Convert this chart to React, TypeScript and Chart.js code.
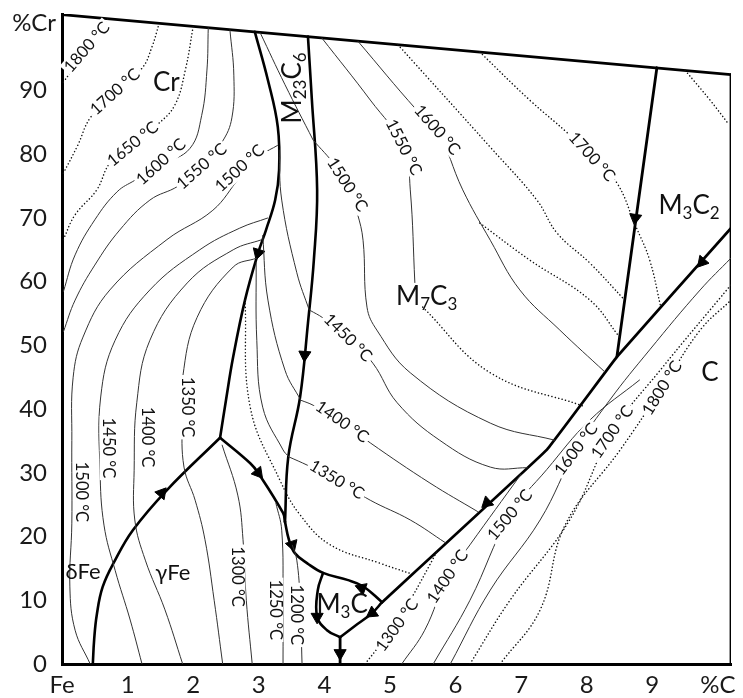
import React, { useEffect, useRef } from "react";
import { Chart, registerables } from "chart.js";
Chart.register(...registerables);

type P = [number, number];

// ---- axes ----
const X_TICKS = [0, 1, 2, 3, 4, 5, 6, 7, 8, 9, 10];
const X_TICK_LABELS = ["Fe", "1", "2", "3", "4", "5", "6", "7", "8", "9", "%C"];
const Y_TICKS = [0, 10, 20, 30, 40, 50, 60, 70, 80, 90];
const Y_TICK_LABELS = ["0", "10", "20", "30", "40", "50", "60", "70", "80", "90"];
const Y_AXIS_TITLE = "%Cr";
const Y_AXIS_TITLE_AT = 100.6;
const X_MAX = 10.2;
const Y_MAX = 102;

// ---- frame edges ----
const EDGE_TOP: P[] = [[0, 101.9], [10.2, 92.5]];
const EDGE_RIGHT: P[] = [[10.2, 92.5], [10.2, 0]];

// ---- phase boundaries (thick) ----
const BND_DELTA_GAMMA: P[] = [[0.47, 0], [0.49, 3.8], [0.53, 7.7], [0.62, 12.1], [0.81, 16.3], [1.08, 21.0], [1.6, 27.3], [2.41, 35.5]];
const BND_CR_M23: P[] = [[2.41, 35.5], [2.5, 41.4], [2.61, 48.2], [2.79, 57.1], [2.99, 64.5], [3.11, 68.1], [3.25, 72.8], [3.31, 77.5], [3.29, 84.3], [3.14, 91.6], [2.94, 99.2]];
const BND_M23_M7: P[] = [[3.75, 98.45], [3.81, 88.5], [3.89, 74.4], [3.84, 63.4], [3.75, 53.5], [3.63, 41.9], [3.45, 32.5], [3.4, 22.3]];
const BND_J1_J2: P[] = [[2.41, 35.5], [2.87, 31.5], [2.99, 30.0], [3.37, 23.7], [3.4, 22.3]];
const BND_J2_M3C: P[] = [[3.4, 22.3], [3.46, 19.5], [3.55, 17.4], [3.74, 15.8], [3.98, 14.3], [4.35, 13.2], [4.59, 12.2], [4.88, 9.7]];
const BND_M3C_LEFT: P[] = [[3.98, 14.3], [3.9, 11.6], [3.89, 7.4], [4.04, 5.3], [4.24, 4.2]];
const BND_M3C_RIGHT: P[] = [[4.88, 9.7], [4.73, 8.0], [4.47, 6.0], [4.24, 4.2]];
const BND_M3C_DOWN: P[] = [[4.24, 4.2], [4.24, 0]];
const BND_GRAPHITE: P[] = [[10.2, 68.4], [8.46, 48.2], [7.39, 33.6], [4.88, 9.7]];
const BND_M3C2_M7: P[] = [[9.07, 93.56], [8.46, 48.2]];

// ---- isotherms: Cr / delta / gamma field ----
const ISO_1800_CR: P[] = [[0.02, 91.3], [0.27, 94.8], [0.5, 98.0], [0.7, 101.25]];
const ISO_1700_CR: P[] = [[0.02, 77.0], [0.24, 81.4], [0.43, 85.7], [0.81, 89.8], [1.22, 93.5], [1.37, 96.8], [1.48, 100.5]];
const ISO_1650_CR: P[] = [[0.02, 66.6], [0.2, 70.5], [0.53, 74.4], [0.73, 78.6], [1.08, 81.6], [1.45, 84.6], [1.72, 87.7], [1.88, 93.2], [2.0, 100.05]];
const ISO_1600_CR: P[] = [[2.23, 99.85], [2.21, 93.2], [2.13, 86.1], [1.95, 80.9], [1.51, 78.3], [1.11, 75.9], [0.84, 74.1], [0.5, 69.7], [0.2, 64.2], [0.02, 58.4]];
const ISO_1550_CR: P[] = [[2.56, 99.55], [2.62, 92.4], [2.59, 85.7], [2.44, 81.9], [2.13, 78.1], [1.77, 75.0], [1.34, 72.8], [0.88, 68.1], [0.5, 62.6], [0.2, 57.1], [0.02, 52.1]];
const ISO_1500_CR: P[] = [[0.43, 0], [0.2, 5.3], [0.12, 12.1], [0.15, 22.1], [0.15, 35.1], [0.17, 45.0], [0.32, 51.3], [0.73, 58.7], [1.6, 66.6], [2.3, 71.2], [2.71, 76.3], [3.05, 79.9], [3.29, 81.4]];
const ISO_1450_CR: P[] = [[1.22, 0], [1.04, 6.9], [0.81, 14.7], [0.64, 21.8], [0.58, 30.4], [0.59, 41.9], [0.81, 50.8], [1.34, 58.7], [2.1, 65.0], [2.71, 68.4], [3.14, 70.0]];
const ISO_1400_CR: P[] = [[1.84, 0], [1.57, 8.5], [1.27, 16.3], [1.11, 22.6], [1.1, 30.4], [1.14, 41.0], [1.34, 50.8], [1.91, 59.8], [2.61, 65.0], [3.05, 66.6]];
const ISO_1350_CR: P[] = [[2.45, 0], [2.32, 10.0], [2.18, 19.5], [2.03, 25.7], [1.86, 30.9], [1.83, 38.3], [1.84, 45.0], [2.06, 54.4], [2.61, 62.3], [2.97, 63.7]];
const ISO_1300_G: P[] = [[2.44, 34.4], [2.68, 26.5], [2.76, 19.5], [2.81, 10.0], [2.9, 0]];
const ISO_1250_G: P[] = [[3.26, 25.3], [3.35, 21.0], [3.37, 10.0], [3.37, 0]];
const ISO_1200_G: P[] = [[3.51, 18.7], [3.58, 16.3], [3.63, 10.0], [3.66, 0]];

// ---- isotherms: M23C6 field ----
const ISO_M23_A: P[] = [[3.02, 99.1], [3.4, 90.9], [3.83, 82.2]];
const ISO_M23_B: P[] = [[3.31, 80.7], [3.35, 72.8], [3.58, 61.4], [3.77, 55.5]];
const ISO_M23_C: P[] = [[3.06, 67.3], [3.14, 57.1], [3.4, 46.1], [3.64, 41.4]];
const ISO_M23_D: P[] = [[2.96, 63.1], [2.97, 50.8], [3.06, 40.3], [3.37, 33.6], [3.46, 32.5]];

// ---- isotherms: M7C3 field ----
const ISO_1500_M7: P[] = [[3.83, 82.2], [4.16, 78.3], [4.35, 75.2], [4.5, 70.8], [4.59, 66.5], [4.65, 56.0], [4.8, 52.4], [5.31, 45.7], [6.53, 37.8], [7.52, 35.1]];
const ISO_1550_M7: P[] = [[3.96, 98.26], [4.7, 88.5], [5.21, 81.1], [5.31, 74.4], [5.38, 59.8]];
const ISO_1550_M7_DOT: P[] = [[5.5, 56.0], [6.53, 45.7], [7.94, 40.5]];
const ISO_1600_M7: P[] = [[4.51, 97.75], [5.41, 86.9], [5.72, 83.8], [6.11, 74.4], [6.53, 66.5], [6.98, 58.7], [7.59, 52.4], [8.28, 45.8]];
const ISO_1450_M7: P[] = [[3.78, 55.5], [3.98, 54.3], [4.36, 51.2], [4.74, 47.2], [5.11, 41.0], [5.76, 35.1], [6.53, 30.9], [7.1, 30.8]];
const ISO_1400_M7: P[] = [[3.64, 41.4], [3.83, 40.6], [4.27, 38.0], [4.7, 34.7], [5.61, 28.4], [6.34, 23.9]];
const ISO_1350_M7: P[] = [[3.46, 32.5], [3.74, 31.2], [4.19, 28.9], [4.7, 25.7], [5.31, 22.6], [5.85, 19.0]];
const ISO_1300_META: P[] = [[2.79, 57.1], [2.87, 40.3], [3.32, 28.9], [3.63, 23.4], [4.09, 18.7], [4.85, 15.8], [5.34, 14.1]];
const ISO_1650_M7: P[] = [[5.12, 97.2], [6.53, 81.1], [7.24, 72.8], [7.55, 67.6], [8.05, 62.9], [8.58, 57.1]];
const ISO_M7_LOW_DOT: P[] = [[6.37, 69.2], [7.13, 63.4], [8.05, 57.1], [8.5, 51.3]];
const ISO_1700_M7: P[] = [[6.37, 96.04], [7.13, 88.5], [7.71, 83.3], [8.08, 79.6], [8.46, 75.5], [8.74, 68.9]];
const ISO_1700_M32: P[] = [[8.74, 68.9], [8.96, 63.4], [9.13, 56.0]];
const ISO_1800_M32: P[] = [[9.5, 93.16], [9.88, 88.5], [10.15, 84.9]];

// ---- isotherms: graphite field ----
const ISO_1300_C: P[] = [[4.62, 0], [4.85, 3.0], [5.08, 6.1], [5.31, 10.0], [5.72, 17.7]];
const ISO_1400_C: P[] = [[5.18, 0], [5.53, 5.3], [5.88, 13.7], [6.22, 18.7], [7.0, 29.8]];
const ISO_1500_C: P[] = [[5.66, 0], [6.22, 10.0], [6.83, 23.4], [7.39, 30.5], [8.05, 38.3], [8.81, 44.6]];
const ISO_1600_C: P[] = [[5.92, 0], [6.53, 11.6], [7.29, 22.6], [7.84, 33.7], [8.35, 41.4], [8.96, 49.3], [9.73, 58.7], [10.2, 63.7]];
const ISO_1700_C: P[] = [[6.22, 0], [6.83, 10.0], [7.74, 22.6], [8.39, 36.4], [9.12, 46.1], [10.2, 59.5]];
const ISO_1800_C: P[] = [[6.68, 0], [7.29, 8.5], [7.67, 21.8], [8.51, 33.6], [9.15, 43.3], [9.73, 52.4], [10.2, 57.1]];

// ---- arrows on the boundary lines ----
const ARROW_AT: P[] = [[1.52, 26.8], [2.99, 64.5], [3.7, 48.5], [2.99, 30.0], [3.51, 18.7], [4.57, 11.9], [3.89, 7.4], [4.73, 8.0], [4.24, 1.7], [9.76, 63.1], [6.48, 25.3], [8.74, 70.0]];
const ARROW_DIR: number[] = [40, 197, 184, 141, 162, 290, 180, 115, 180, 221, 228, 188];

// ---- text ----
const LABEL_TEXT: string[] = [
  "1800 °C", "1700 °C", "Cr", "1650 °C", "1600 °C", "1550 °C", "1500 °C", "M_23C_6",
  "1500 °C", "1550 °C", "1600 °C", "1700 °C", "M_3C_2", "M_7C_3", "1450 °C", "1400 °C", "1350 °C",
  "1350 °C", "1400 °C", "1450 °C", "1500 °C", "δFe", "γFe", "1300 °C", "1250 °C", "1200 °C", "M_3C",
  "1300 °C", "1400 °C", "1500 °C", "1600 °C", "1700 °C", "1800 °C", "C",
];
const LABEL_AT: P[] = [
  [0.38, 96.8], [0.81, 89.8], [1.59, 91.3], [1.08, 81.6], [1.51, 78.8], [2.13, 78.1], [2.71, 77.8], [3.52, 90.4],
  [4.35, 75.2], [5.21, 81.1], [5.72, 83.8], [8.08, 79.6], [9.56, 71.9], [5.56, 57.6], [4.36, 51.2], [4.27, 38.0], [4.19, 28.9],
  [1.91, 40.3], [1.3, 35.6], [0.7, 33.9], [0.3, 27.0], [0.32, 14.4], [1.69, 14.3], [2.67, 13.7], [3.25, 8.5], [3.58, 7.7], [4.27, 9.3],
  [5.11, 6.1], [5.88, 13.7], [6.83, 23.4], [7.84, 33.7], [8.39, 36.4], [9.15, 43.3], [9.88, 45.7],
];
const LABEL_ROT: number[] = [
  -49, -42, 0, -39, -42, -41, -43, -90,
  57, 63, 49, 48, 0, 0, 45, 35, 31,
  90, 90, 90, 90, 0, 0, 90, 90, 90, 0,
  -54, -56, -50, -53, -55, -58, 0,
];

const FONT = "Lato, 'Open Sans', sans-serif";

const THICK_SMOOTH: P[][] = [BND_DELTA_GAMMA, BND_CR_M23, BND_M23_M7, BND_J1_J2, BND_J2_M3C, BND_M3C_LEFT, BND_M3C_RIGHT];
const THICK_STRAIGHT: P[][] = [EDGE_TOP, EDGE_RIGHT, BND_M3C_DOWN, BND_GRAPHITE, BND_M3C2_M7];
const THIN: P[][] = [
  ISO_1600_CR, ISO_1550_CR, ISO_1500_CR, ISO_1450_CR, ISO_1400_CR, ISO_1350_CR, ISO_1300_G, ISO_1250_G, ISO_1200_G,
  ISO_M23_A, ISO_M23_B, ISO_M23_C, ISO_M23_D,
  ISO_1500_M7, ISO_1550_M7, ISO_1600_M7, ISO_1450_M7, ISO_1400_M7, ISO_1350_M7,
  ISO_1400_C, ISO_1500_C, ISO_1600_C,
];
const DOTTED: P[][] = [
  ISO_1800_CR, ISO_1700_CR, ISO_1650_CR, ISO_1550_M7_DOT, ISO_1300_META, ISO_1650_M7, ISO_M7_LOW_DOT,
  ISO_1700_M7, ISO_1700_M32, ISO_1800_M32, ISO_1300_C, ISO_1700_C, ISO_1800_C,
];

const xy = (pts: P[]) => pts.map(([x, y]) => ({ x, y }));

function drawRich(ctx: CanvasRenderingContext2D, text: string, size: number, bg: boolean) {
  const parts = text.split(/(_\d+)/).filter((s) => s.length > 0).map((s) =>
    s.startsWith("_") ? { s: s.slice(1), sub: true } : { s, sub: false });
  const mainFont = `${size}px ${FONT}`;
  const subFont = `${Math.round(size * 0.66)}px ${FONT}`;
  let w = 0;
  const widths = parts.map((p) => {
    ctx.font = p.sub ? subFont : mainFont;
    const m = ctx.measureText(p.s).width;
    w += m;
    return m;
  });
  if (bg) {
    ctx.fillStyle = "#fff";
    ctx.fillRect(-w / 2 - 2, -size * 0.5, w + 4, size * 1.0);
  }
  ctx.fillStyle = "#111";
  ctx.textBaseline = "middle";
  ctx.textAlign = "left";
  let cx = -w / 2;
  parts.forEach((p, i) => {
    ctx.font = p.sub ? subFont : mainFont;
    ctx.fillText(p.s, cx, p.sub ? size * 0.3 : 0);
    cx += widths[i];
  });
}

const labelPlugin = {
  id: "phaseLabels",
  afterDatasetsDraw(chart: any) {
    const { ctx, scales } = chart;
    const xs = scales.x;
    const ys = scales.y;
    LABEL_TEXT.forEach((t, i) => {
      const isTemp = t.includes("°");
      const size = isTemp ? 16.5 : t === "δFe" || t === "γFe" ? 22 : 26;
      ctx.save();
      ctx.translate(xs.getPixelForValue(LABEL_AT[i][0]), ys.getPixelForValue(LABEL_AT[i][1]));
      ctx.rotate((LABEL_ROT[i] * Math.PI) / 180);
      drawRich(ctx, t, size, isTemp);
      ctx.restore();
    });
    // y-axis title at the top of the axis
    ctx.save();
    ctx.font = `24px ${FONT}`;
    ctx.fillStyle = "#1a1a1a";
    ctx.textAlign = "center";
    ctx.textBaseline = "middle";
    ctx.fillText(Y_AXIS_TITLE, ys.left + ys.width * 0.55, ys.getPixelForValue(Y_AXIS_TITLE_AT));
    ctx.restore();
  },
};

export default function App() {
  const ref = useRef<HTMLCanvasElement>(null);
  useEffect(() => {
    const datasets: any[] = [];
    THIN.forEach((pts) =>
      datasets.push({ data: xy(pts), showLine: true, borderColor: "#333", borderWidth: 1, pointRadius: 0, tension: 0.4 }));
    DOTTED.forEach((pts) =>
      datasets.push({ data: xy(pts), showLine: true, borderColor: "#111", borderWidth: 1.5, borderDash: [0.1, 3.4], borderCapStyle: "round", pointRadius: 0, tension: 0.4 }));
    THICK_SMOOTH.forEach((pts) =>
      datasets.push({ data: xy(pts), showLine: true, borderColor: "#000", borderWidth: 2.6, borderJoinStyle: "round", borderCapStyle: "round", pointRadius: 0, tension: 0.4 }));
    THICK_STRAIGHT.forEach((pts) =>
      datasets.push({ data: xy(pts), showLine: true, borderColor: "#000", borderWidth: 2.8, borderJoinStyle: "round", borderCapStyle: "round", pointRadius: 0, tension: 0.05 }));
    datasets.push({
      data: xy(ARROW_AT), showLine: false, pointStyle: "triangle", pointRadius: 7,
      pointRotation: ARROW_DIR, pointBackgroundColor: "#000", pointBorderColor: "#000", pointBorderWidth: 1,
    });

    const chart = new Chart(ref.current!, {
      type: "scatter",
      data: { datasets },
      options: {
        responsive: false,
        devicePixelRatio: 1,
        animation: false,
        events: [],
        layout: { padding: { left: 0, top: 14, right: 12, bottom: 0 } },
        plugins: { legend: { display: false }, tooltip: { enabled: false } },
        scales: {
          x: {
            type: "linear", min: 0, max: X_MAX, position: "bottom",
            grid: { display: false, drawTicks: false },
            border: { display: true, width: 3, color: "#000" },
            afterBuildTicks: (s: any) => { s.ticks = X_TICKS.map((v) => ({ value: v })); },
            afterFit: (s: any) => { s.height = 34; s.paddingLeft = 0; s.paddingRight = 0; },
            ticks: {
              color: "#1a1a1a", padding: 7, font: { family: FONT, size: 24 },
              callback: (v: any) => X_TICK_LABELS[X_TICKS.indexOf(Number(v))] ?? "",
            },
          },
          y: {
            type: "linear", min: 0, max: Y_MAX, position: "left",
            grid: { display: false, drawTicks: false },
            border: { display: true, width: 3, color: "#000" },
            afterBuildTicks: (s: any) => { s.ticks = Y_TICKS.map((v) => ({ value: v })); },
            afterFit: (s: any) => { s.width = 62; s.paddingTop = 0; s.paddingBottom = 0; },
            ticks: {
              color: "#1a1a1a", padding: 15, crossAlign: "near", font: { family: FONT, size: 24 },
              callback: (v: any) => Y_TICK_LABELS[Y_TICKS.indexOf(Number(v))] ?? "",
            },
          },
        },
      },
      plugins: [labelPlugin],
    } as any);
    return () => chart.destroy();
  }, []);
  return (
    <div style={{ position: "fixed", left: 0, top: 0, width: 743, height: 698, background: "#fff" }}>
      <canvas ref={ref} width={743} height={698} style={{ width: 743, height: 698, display: "block" }} />
    </div>
  );
}
